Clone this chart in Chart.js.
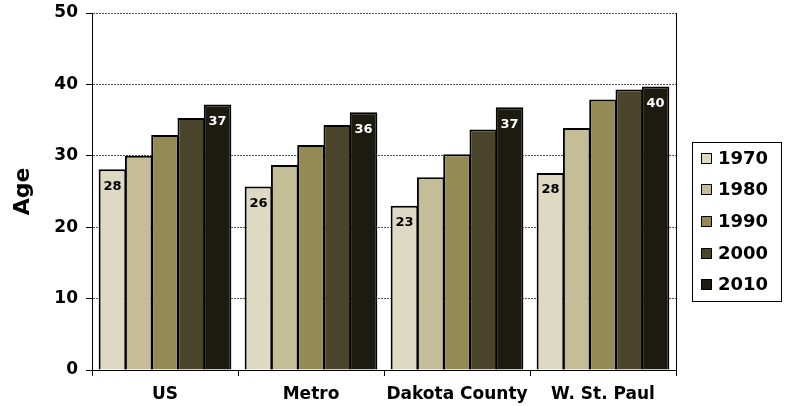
<!DOCTYPE html>
<html>
<head>
<meta charset="utf-8">
<script src="https://cdn.jsdelivr.net/npm/chart.js@4"></script>
<style>
    html, body { margin: 0; padding: 0; background: #fff; }
    #wrap { width: 786px; height: 406px; }
</style>
</head>
<body>
<div id="wrap"><canvas id="bar-chart" width="786" height="406"></canvas></div>
<script>
const places = ["US", "Metro", "Dakota County", "W. St. Paul"];
const years = ["1970", "1980", "1990", "2000", "2010"];
const age1970 = [28.1, 25.7, 23.0, 27.6];
const age1980 = [30.0, 28.7, 27.0, 33.9];
const age1990 = [32.9, 31.5, 30.2, 37.9];
const age2000 = [35.3, 34.3, 33.7, 39.3];
const age2010 = [37.2, 36.1, 36.8, 39.7];
const yearColors = ["#DDD9C3", "#C4BD97", "#948A54", "#4A452A", "#1D1B10"];
const labelColors = ["#000000", null, null, null, "#FFFFFF"];
const yTicks = [0, 10, 20, 30, 40, 50];

const FONT = "'DejaVu Sans', Verdana, sans-serif";
const seriesValues = [age1970, age1980, age1990, age2000, age2010];

const datasets = years.map((year, i) => ({
    label: year,
    data: seriesValues[i],
    backgroundColor: yearColors[i],
    borderColor: "#000000",
    borderWidth: 2,
    categoryPercentage: 0.9,
    barPercentage: 1.05,
}));

// value labels on first and last year bars, plus the right frame line
const barLabels = {
    id: "barLabels",
    afterDatasetsDraw(chart) {
        const ctx = chart.ctx;
        ctx.save();
        ctx.font = "bold 13px " + FONT;
        ctx.textAlign = "center";
        ctx.textBaseline = "middle";
        chart.data.datasets.forEach((ds, i) => {
            if (!labelColors[i]) return;
            const meta = chart.getDatasetMeta(i);
            meta.data.forEach((bar, j) => {
                ctx.fillStyle = labelColors[i];
                ctx.fillText(Math.round(ds.data[j]), bar.x, bar.y + 17);
            });
        });
        const area = chart.chartArea;
        ctx.strokeStyle = "#000000";
        ctx.lineWidth = 1;
        ctx.beginPath();
        ctx.moveTo(Math.round(area.right) + 0.5, area.top);
        ctx.lineTo(Math.round(area.right) + 0.5, area.bottom);
        ctx.stroke();
        ctx.restore();
    },
};

// boxed legend on the right
const boxLegend = {
    id: "boxLegend",
    afterDraw(chart) {
        const ctx = chart.ctx;
        ctx.save();
        ctx.strokeStyle = "#000000";
        ctx.lineWidth = 1;
        ctx.strokeRect(692.5, 142.5, 89, 159);
        ctx.font = "bold 18px " + FONT;
        ctx.textBaseline = "middle";
        ctx.textAlign = "left";
        chart.data.datasets.forEach((ds, i) => {
            const cy = 158 + i * 31.7;
            ctx.fillStyle = ds.backgroundColor;
            ctx.fillRect(701, Math.round(cy - 5.5), 11, 11);
            ctx.strokeStyle = "#000000";
            ctx.strokeRect(701.5, Math.round(cy - 5.5) + 0.5, 10, 10);
            ctx.fillStyle = "#000000";
            ctx.fillText(ds.label, 718, cy + 1);
        });
        ctx.restore();
    },
};

new Chart(document.getElementById("bar-chart"), {
    type: "bar",
    data: {
        labels: places,
        datasets: datasets,
    },
    options: {
        responsive: false,
        animation: false,
        layout: { padding: { top: 13, right: 110, left: 0, bottom: 0 } },
        plugins: {
            legend: { display: false },
            tooltip: { enabled: false },
        },
        scales: {
            x: {
                grid: {
                    offset: true,
                    drawOnChartArea: false,
                    drawTicks: true,
                    tickLength: 6,
                    color: "#000000",
                },
                border: { color: "#000000", width: 1 },
                ticks: {
                    color: "#000000",
                    font: { family: FONT, size: 17, weight: "bold" },
                    padding: 8,
                    maxRotation: 0,
                },
                afterFit: (scale) => {
                    scale.height = 36;
                    scale.paddingLeft = 0;
                    scale.paddingRight = 0;
                },
            },
            y: {
                min: 0,
                max: 50,
                afterBuildTicks: (scale) => {
                    scale.ticks = yTicks.map((v) => ({ value: v }));
                },
                grid: {
                    color: "#555555",
                    lineWidth: 1,
                    drawTicks: true,
                    tickLength: 6,
                    tickColor: "#000000",
                },
                border: { color: "#000000", width: 1, dash: [2, 1] },
                ticks: {
                    color: "#000000",
                    font: { family: FONT, size: 17, weight: "bold" },
                    padding: 8,
                },
                title: {
                    display: true,
                    text: "Age",
                    color: "#000000",
                    font: { family: FONT, size: 22, weight: "bold" },
                    padding: { top: 10, bottom: 0 },
                },
                afterFit: (scale) => {
                    scale.width = 92;
                    scale.paddingTop = 0;
                    scale.paddingBottom = 0;
                },
            },
        },
    },
    plugins: [barLabels, boxLegend],
});
</script>
</body>
</html>
